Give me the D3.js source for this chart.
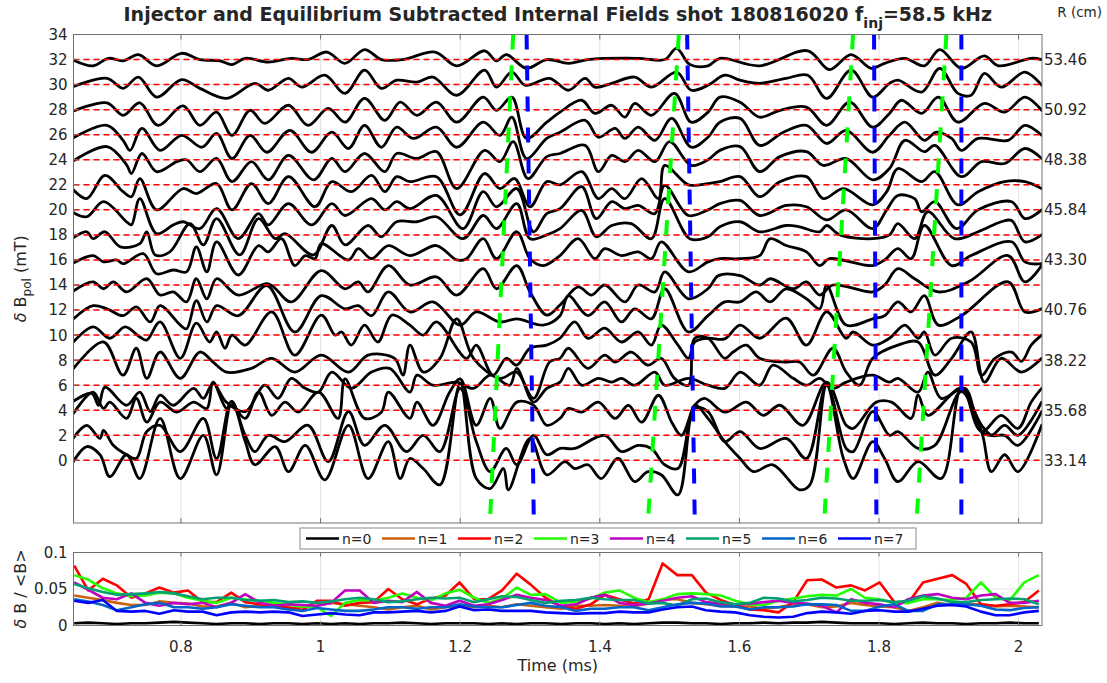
<!DOCTYPE html>
<html><head><meta charset="utf-8">
<script src="https://cdn.jsdelivr.net/npm/d3@7"></script>
<style>
body{margin:0;background:#fff}
svg{display:block}
text{font-family:"DejaVu Sans",sans-serif;fill:#262626}
</style>
</head><body>
<svg id="chart" width="1107" height="683"></svg>
<script>
// ---------------- DATA ----------------
const timeDomain = [0.646, 2.0335];
const timeTicks = [0.8, 1, 1.2, 1.4, 1.6, 1.8, 2];
const fieldTicks = [0,2,4,6,8,10,12,14,16,18,20,22,24,26,28,30,32,34];
const probeOffsets = [0,2,4,6,8,10,12,14,16,18,20,22,24,26,28,30,32];
const radiusTickOffsets = [0,4,8,12,16,20,24,28,32];
const radiusTickLabels = ["33.14","35.68","38.22","40.76","43.30","45.84","48.38","50.92","53.46"];
const ratioTicks = [0, 0.05, 0.1];

// probe traces: [time (ms), deltaB (mT) relative to the probe offset]
const trace0 = [[0.644,-0.25],[0.665,1.1],[0.684,0.45],[0.698,-1.3],[0.722,0.45],[0.741,-1.45],[0.770,3.35],[0.799,-1.45],[0.832,2.0],[0.851,-1.15],[0.873,4.7],[0.892,1.5],[0.906,-0.35],[0.935,1.1],[0.954,-0.9],[0.978,1.2],[1.006,-1.55],[1.040,2.8],[1.068,-1.45],[1.097,1.5],[1.114,-1.45],[1.128,0.15],[1.147,-0.65],[1.171,-1.95],[1.200,6.15],[1.223,-1.45],[1.243,-2.25],[1.262,-0.65],[1.269,-2.35],[1.300,1.75],[1.324,-1.15],[1.350,-0.1],[1.364,-0.65],[1.383,-0.35],[1.402,-1.45],[1.426,0.15],[1.450,-1.7],[1.469,-0.9],[1.488,-1.15],[1.512,-2.75],[1.536,4.4],[1.555,3.35],[1.579,1.5],[1.601,0.15],[1.620,-0.9],[1.648,-0.35],[1.686,-2.35],[1.701,-1.95],[1.725,6.0],[1.749,0.15],[1.763,-1.45],[1.791,1.5],[1.808,0.15],[1.827,-1.7],[1.856,-0.1],[1.889,-1.45],[1.918,5.75],[1.947,2.3],[1.961,-0.9],[1.980,0.45],[1.999,-0.9],[2.033,2.8]];
const trace1 = [[0.644,-0.35],[0.665,0.8],[0.684,-0.25],[0.689,0.4],[0.703,-0.8],[0.722,-1.55],[0.736,-1.85],[0.751,0.3],[0.770,0.8],[0.799,-1.3],[0.832,1.35],[0.851,-1.85],[0.872,2.7],[0.892,0],[0.906,-1.3],[0.925,0],[0.949,-0.5],[0.982,0.8],[1.011,-2.1],[1.040,1.9],[1.063,-0.8],[1.092,0.8],[1.123,-1.3],[1.147,0],[1.171,-1.3],[1.200,3.75],[1.223,-0.5],[1.243,-2.9],[1.266,-1.05],[1.281,-2.35],[1.305,0],[1.324,-1.55],[1.343,-1.05],[1.364,-1.05],[1.407,0],[1.431,-1.3],[1.455,-0.8],[1.474,-1.05],[1.493,-2.35],[1.512,-2.65],[1.536,2.15],[1.555,1.9],[1.579,-0.5],[1.601,0.3],[1.629,-1.05],[1.667,-0.25],[1.696,-1.85],[1.725,4.0],[1.753,-1.05],[1.763,-1.3],[1.791,1.9],[1.815,0],[1.827,0.3],[1.856,-1.05],[1.880,-0.8],[1.918,3.5],[1.947,0.8],[1.961,0],[1.980,0],[1.999,-0.8],[2.033,1.9]];
const trace2 = [[0.644,-0.4],[0.674,1.45],[0.689,0.15],[0.698,0.65],[0.722,-0.65],[0.736,0.95],[0.751,-0.95],[0.770,0.65],[0.794,-0.15],[0.818,0.65],[0.837,0.15],[0.846,2.25],[0.865,0.15],[0.873,0.4],[0.892,-0.65],[0.911,1.45],[0.930,-0.4],[0.949,0.65],[0.968,-0.15],[0.997,1.45],[1.025,-0.65],[1.035,2.5],[1.063,-0.65],[1.087,-0.15],[1.097,1.45],[1.128,-0.65],[1.138,0.65],[1.161,-1.2],[1.185,1.45],[1.200,2.5],[1.223,-1.2],[1.243,0.95],[1.257,-1.45],[1.281,0.65],[1.305,0.4],[1.324,-1.2],[1.343,-0.65],[1.355,0.15],[1.374,-0.15],[1.398,0.65],[1.422,-0.65],[1.441,0.4],[1.460,-0.95],[1.484,1.2],[1.503,-0.95],[1.517,-2.0],[1.536,0.4],[1.550,0.95],[1.579,-0.15],[1.610,0.65],[1.634,-0.4],[1.658,0.4],[1.691,-1.2],[1.725,2.25],[1.753,-1.2],[1.763,-1.45],[1.796,0.65],[1.818,0.65],[1.846,-0.65],[1.856,1.2],[1.870,-0.4],[1.918,1.75],[1.942,-1.45],[1.961,-2.0],[1.980,-1.2],[1.999,-2.0],[2.033,0.65]];
const trace3 = [[0.644,-1.35],[0.672,-0.65],[0.682,-1.6],[0.691,-0.15],[0.722,-1.6],[0.741,-0.55],[0.756,-2.1],[0.770,-0.8],[0.789,-1.6],[0.818,-0.25],[0.832,-1.05],[0.846,0.15],[0.865,-1.35],[0.892,-2.1],[0.920,0],[0.939,-1.05],[0.958,0.55],[0.978,-0.25],[0.997,-0.55],[1.016,1.05],[1.044,-0.25],[1.073,1.05],[1.099,1.35],[1.128,-0.55],[1.138,0.8],[1.161,0],[1.195,0.25],[1.219,-0.25],[1.243,0.8],[1.271,0],[1.281,1.35],[1.305,-1.35],[1.324,-0.25],[1.343,0.25],[1.355,1.35],[1.374,0],[1.398,0.55],[1.417,0.25],[1.431,0.55],[1.450,0],[1.479,1.05],[1.493,0],[1.527,0.55],[1.555,0],[1.579,-0.25],[1.601,1.05],[1.629,0],[1.648,1.6],[1.677,0.55],[1.696,0],[1.715,0.55],[1.734,-0.25],[1.753,0.25],[1.791,0.8],[1.815,0.25],[1.827,0.55],[1.856,-0.55],[1.870,1.05],[1.889,-1.05],[1.923,-0.25],[1.947,-3.7],[1.975,-2.4],[1.999,-3.45],[2.018,-1.35],[2.033,-0.25]];
const trace4 = [[0.644,-0.8],[0.689,1.45],[0.717,-1.2],[0.736,0.95],[0.751,-1.45],[0.770,0.65],[0.799,-1.45],[0.827,0.65],[0.846,-0.15],[0.865,-0.95],[0.901,-0.65],[0.930,0.15],[0.963,-0.95],[1.001,0.4],[1.040,-0.95],[1.068,0.4],[1.106,0.15],[1.118,-1.2],[1.128,1.2],[1.147,-0.95],[1.171,0.15],[1.195,3.3],[1.219,0.15],[1.257,-1.45],[1.281,-0.95],[1.305,-3.05],[1.328,-0.15],[1.343,0.15],[1.355,0.95],[1.383,-0.65],[1.407,0.4],[1.422,-0.15],[1.445,0.65],[1.469,-0.4],[1.488,0.15],[1.507,-1.45],[1.527,-2.0],[1.536,1.75],[1.555,1.75],[1.579,0.15],[1.591,0.65],[1.610,1.2],[1.629,0.15],[1.667,-0.15],[1.686,-0.15],[1.706,-1.2],[1.734,0.95],[1.753,-0.95],[1.772,-2.0],[1.791,0.15],[1.827,1.2],[1.856,1.45],[1.880,-1.2],[1.904,0.15],[1.932,2.25],[1.951,-1.75],[1.975,0.15],[2.004,-0.95],[2.033,0.15]];
const trace5 = [[0.644,-0.65],[0.674,0.65],[0.698,-0.25],[0.720,0.65],[0.741,-0.15],[0.751,-0.4],[0.770,1.05],[0.799,-1.85],[0.822,0.95],[0.841,-0.55],[0.851,0.25],[0.863,-1.05],[0.873,0],[0.892,-0.8],[0.930,1.85],[0.963,-1.6],[1.001,1.6],[1.021,0],[1.030,0.25],[1.044,-0.8],[1.063,0.8],[1.082,-0.55],[1.102,1.6],[1.128,0.8],[1.147,0],[1.166,1.05],[1.209,-1.85],[1.223,-0.8],[1.247,-3.2],[1.266,-1.85],[1.281,-2.4],[1.300,-1.05],[1.324,-0.8],[1.343,-0.25],[1.364,1.05],[1.383,-0.25],[1.407,0.55],[1.431,-0.55],[1.455,0.25],[1.474,-0.8],[1.488,0.8],[1.512,-0.8],[1.527,-1.85],[1.536,-0.55],[1.555,-0.25],[1.579,-0.3],[1.601,0.8],[1.629,-0.25],[1.667,1.35],[1.696,-0.8],[1.725,1.85],[1.753,-0.25],[1.763,0.25],[1.791,-0.8],[1.815,-0.25],[1.837,0.8],[1.856,-0.25],[1.865,0.25],[1.880,-1.6],[1.904,-0.25],[1.932,-0.55],[1.947,-3.2],[1.966,-1.85],[1.990,-1.35],[2.004,-2.1],[2.018,-0.8],[2.033,0]];
const trace6 = [[0.644,-0.8],[0.674,0.35],[0.694,0.1],[0.717,-0.45],[0.736,0.25],[0.756,-0.95],[0.770,0.35],[0.799,-1.2],[0.808,-1.5],[0.822,0.75],[0.837,-0.95],[0.851,0.35],[0.882,-0.45],[0.923,1.95],[0.963,-1.75],[1.001,1.15],[1.035,0.1],[1.054,0.35],[1.073,-0.45],[1.097,1.45],[1.128,-0.15],[1.161,0.65],[1.200,-1.2],[1.223,-0.15],[1.257,-0.95],[1.281,-0.7],[1.319,-1.2],[1.343,-0.45],[1.355,1.15],[1.383,-0.45],[1.407,0.65],[1.431,-0.95],[1.450,0.1],[1.474,-0.7],[1.493,1.7],[1.527,-1.75],[1.555,-0.45],[1.579,0.65],[1.601,0.65],[1.624,1.45],[1.644,0.65],[1.667,1.7],[1.696,0.9],[1.715,0.1],[1.725,1.95],[1.753,-1.2],[1.791,-0.7],[1.808,-0.45],[1.827,0.65],[1.846,-0.15],[1.865,1.15],[1.885,-1.2],[1.918,-0.45],[1.985,2.25],[2.009,-0.15],[2.033,0.1]];
const trace7 = [[0.644,-0.55],[0.674,0.25],[0.689,-0.3],[0.703,0.25],[0.722,-0.55],[0.751,0.5],[0.770,-0.8],[0.789,-0.55],[0.808,-1.35],[0.822,0.5],[0.837,-1.1],[0.851,0.5],[0.882,-0.8],[0.925,0.1],[0.958,-1.35],[1.001,1.15],[1.035,-0.3],[1.054,0.25],[1.068,-0.55],[1.097,1.55],[1.128,0],[1.166,0.65],[1.195,-0.8],[1.233,1.3],[1.252,-0.3],[1.281,1.55],[1.300,-0.55],[1.324,-2.4],[1.343,-1.6],[1.369,-0.15],[1.388,-0.8],[1.407,0],[1.436,-1.35],[1.455,0],[1.479,-0.55],[1.493,1.05],[1.527,-1.1],[1.555,-0.3],[1.570,0.75],[1.601,0.75],[1.629,0],[1.644,0.5],[1.677,-0.3],[1.696,0.25],[1.715,-0.8],[1.734,0],[1.791,-0.55],[1.808,0],[1.827,1.3],[1.851,0.5],[1.885,-0.55],[1.928,0.25],[1.985,2.35],[2.009,0.25],[2.033,1.55]];
const trace8 = [[0.644,-0.3],[0.674,0.35],[0.689,-0.15],[0.708,0],[0.717,-0.3],[0.746,0.5],[0.765,-1.1],[0.789,-0.8],[0.808,-0.95],[0.822,1.05],[0.837,-0.95],[0.851,1.45],[0.882,-1.2],[0.911,1.15],[0.925,0.65],[0.944,1.7],[0.963,-0.45],[0.978,0.35],[0.992,0.1],[1.001,1.3],[1.040,0],[1.054,0.9],[1.073,0.1],[1.097,1.15],[1.128,0.35],[1.166,1.15],[1.195,0],[1.209,0.1],[1.233,1.7],[1.252,0.1],[1.281,2.25],[1.300,0.1],[1.319,-0.45],[1.343,0.35],[1.369,1.7],[1.393,0.1],[1.407,0.9],[1.431,0.35],[1.455,0.65],[1.474,0.1],[1.488,1.45],[1.527,-0.95],[1.555,-0.15],[1.572,0.1],[1.601,0.1],[1.629,0.35],[1.644,1.7],[1.667,1.15],[1.696,0.65],[1.715,-0.45],[1.729,0.1],[1.791,-0.45],[1.808,0],[1.827,0.9],[1.846,0.1],[1.865,2.75],[1.904,-0.45],[1.932,0.35],[1.990,1.45],[2.009,-0.15],[2.033,-0.3]];
const trace9 = [[0.644,-0.3],[0.665,0.25],[0.674,-0.3],[0.691,0.25],[0.713,-0.95],[0.741,-0.7],[0.751,0.25],[0.763,-1.6],[0.784,-1.35],[0.813,0.9],[0.832,-0.8],[0.851,1.3],[0.884,-1.6],[0.911,1.3],[0.935,-0.3],[0.949,0.1],[0.990,-1.6],[1.016,0.75],[1.035,-0.8],[1.068,0.75],[1.087,-0.15],[1.109,1.05],[1.138,1.05],[1.166,1.45],[1.204,-0.3],[1.233,1.55],[1.252,0.5],[1.281,2.5],[1.300,-0.3],[1.324,0],[1.343,0.5],[1.374,1.95],[1.395,-0.15],[1.417,0.75],[1.445,0.9],[1.474,-0.3],[1.493,2.9],[1.529,-0.3],[1.555,-0.15],[1.572,0.65],[1.601,1.05],[1.629,0.25],[1.667,0.75],[1.686,0.65],[1.715,0.25],[1.725,0.75],[1.744,0],[1.791,-0.3],[1.815,0],[1.827,0.9],[1.851,-0.3],[1.870,1.85],[1.908,-0.3],[1.942,0.25],[1.975,1.05],[1.990,1.15],[2.009,-0.55],[2.033,0]];
const trace10 = [[0.644,-0.15],[0.665,-0.55],[0.689,0.65],[0.722,-0.95],[0.729,-1.2],[0.741,0.9],[0.765,-1.9],[0.789,-1.2],[0.803,-0.95],[0.827,-1.5],[0.851,0.1],[0.882,-2.3],[0.911,-0.3],[0.925,-1.2],[0.954,0.5],[0.987,-1.2],[1.016,0.5],[1.035,-0.45],[1.073,0.9],[1.092,0],[1.109,0.65],[1.128,0.1],[1.166,1.15],[1.204,-1.5],[1.233,1.45],[1.252,0.25],[1.281,1.7],[1.305,-1.75],[1.324,-0.3],[1.343,0.1],[1.374,1.85],[1.395,-0.7],[1.417,0.65],[1.436,0.1],[1.455,0.35],[1.479,-0.3],[1.493,1.95],[1.527,-0.45],[1.555,0],[1.572,0.5],[1.601,0.75],[1.629,-0.45],[1.667,0.35],[1.696,0.25],[1.725,-0.8],[1.753,0],[1.791,-1.5],[1.811,0],[1.827,1.15],[1.851,0.9],[1.861,-0.15],[1.880,0.65],[1.911,-1.5],[1.942,0],[1.990,0.65],[2.009,-0.7],[2.033,0]];
const trace11 = [[0.644,-0.3],[0.665,-1.1],[0.691,0.75],[0.717,-0.55],[0.729,-0.95],[0.741,0.5],[0.765,-2.0],[0.803,-0.3],[0.822,-0.7],[0.851,0.1],[0.873,-2.0],[0.901,0.1],[0.925,-1.5],[0.954,0.65],[0.992,-1.75],[1.016,0.25],[1.044,-0.55],[1.073,0.75],[1.092,-0.55],[1.109,0.65],[1.128,0.25],[1.166,0.65],[1.200,-2.4],[1.235,0.9],[1.257,-0.3],[1.278,0.5],[1.300,-1.75],[1.324,0.25],[1.343,0],[1.374,1.05],[1.398,-1.1],[1.417,-0.3],[1.436,-1.1],[1.460,0.5],[1.484,-1.1],[1.493,1.55],[1.527,0],[1.555,0.1],[1.572,0.25],[1.601,0.65],[1.629,-0.95],[1.658,0.25],[1.696,0.65],[1.720,-1.1],[1.749,-0.3],[1.791,-1.6],[1.811,-0.55],[1.827,1.3],[1.861,0.25],[1.880,1.05],[1.913,-1.6],[1.942,-0.55],[1.980,0.25],[2.009,0.25],[2.033,-0.3]];
const trace12 = [[0.644,-0.15],[0.694,1.05],[0.722,-0.4],[0.729,-1.1],[0.744,0.5],[0.765,-0.95],[0.794,-0.15],[0.808,0],[0.827,-0.95],[0.851,0.1],[0.873,-1.75],[0.901,-0.15],[0.925,-1.6],[0.954,0.35],[0.990,-1.6],[1.016,0.1],[1.035,-0.95],[1.063,0.5],[1.092,-0.95],[1.109,0.5],[1.138,0.1],[1.166,0.65],[1.195,-2.3],[1.235,0.75],[1.257,-0.15],[1.276,1.45],[1.297,-1.5],[1.324,0.25],[1.343,0.5],[1.379,1.15],[1.398,-0.95],[1.417,0.35],[1.436,-0.15],[1.455,0.75],[1.479,-0.15],[1.500,1.45],[1.531,-0.45],[1.555,0],[1.572,0.75],[1.601,1.05],[1.629,-0.95],[1.658,0.25],[1.696,0.65],[1.720,-0.45],[1.753,0.1],[1.791,-1.6],[1.815,-0.7],[1.837,1.55],[1.865,0.65],[1.880,1.15],[1.918,-1.35],[1.947,-0.15],[1.980,-0.3],[2.009,0.9],[2.033,0.1]];
const trace13 = [[0.644,-0.3],[0.694,0.75],[0.717,-0.45],[0.727,-1.25],[0.744,0.5],[0.770,-1.25],[0.801,-0.05],[0.830,-1.0],[0.851,0.1],[0.873,-1.9],[0.899,-0.05],[0.923,-1.4],[0.956,0.35],[0.987,-1.4],[1.016,0.2],[1.040,-1.1],[1.063,0.75],[1.087,-1.0],[1.109,0.6],[1.133,-0.3],[1.166,0.6],[1.195,-1.0],[1.233,1.0],[1.257,-0.05],[1.274,1.4],[1.295,-1.9],[1.324,-0.3],[1.343,0.2],[1.379,1.15],[1.398,-0.2],[1.422,0.5],[1.436,-0.3],[1.455,0.6],[1.479,-0.45],[1.503,1.3],[1.531,-1.0],[1.555,-0.2],[1.572,1.0],[1.601,1.3],[1.629,-0.85],[1.663,0.2],[1.696,0.75],[1.725,-0.7],[1.753,0.35],[1.791,-1.4],[1.815,-0.05],[1.837,1.0],[1.865,-0.45],[1.882,0.2],[1.904,-0.3],[1.918,-1.25],[1.942,-0.3],[1.985,-0.45],[2.009,0.75],[2.033,-0.05]];
const trace14 = [[0.644,-0.15],[0.694,0.55],[0.717,-0.45],[0.741,0.55],[0.767,-1.25],[0.803,0.3],[0.827,-1.25],[0.851,-0.2],[0.873,-2.05],[0.899,-0.05],[0.920,-1.1],[0.954,0.35],[0.982,-1.25],[1.011,0.1],[1.035,-1.0],[1.063,0.9],[1.092,-0.85],[1.114,0.6],[1.138,-0.45],[1.166,0.6],[1.195,-1.0],[1.233,1.0],[1.252,-0.05],[1.274,1.0],[1.295,-2.3],[1.324,-1.0],[1.343,-0.2],[1.374,0.75],[1.393,-0.3],[1.417,0.35],[1.436,-0.6],[1.450,0.5],[1.474,-0.45],[1.507,1.3],[1.531,-1.0],[1.555,-0.2],[1.572,1.0],[1.601,0.6],[1.629,-0.6],[1.658,-0.05],[1.696,0.2],[1.725,-1.25],[1.758,0.6],[1.791,-1.4],[1.815,-0.3],[1.832,0.75],[1.861,-0.3],[1.885,1.0],[1.913,-1.0],[1.951,0.5],[1.980,-0.2],[2.009,1.0],[2.033,-0.05]];
const trace15 = [[0.644,-0.2],[0.694,0.5],[0.717,-0.3],[0.739,0.6],[0.765,-1.0],[0.801,0.4],[0.827,-0.3],[0.865,-1.1],[0.906,0.1],[0.925,-0.45],[0.954,0.5],[0.973,-0.2],[1.006,0.75],[1.035,-0.7],[1.063,1.15],[1.087,-0.3],[1.109,0.35],[1.138,0.2],[1.161,0.6],[1.195,-0.85],[1.235,1.15],[1.252,-0.2],[1.274,1.0],[1.293,-0.05],[1.328,0.5],[1.355,-0.45],[1.379,0.5],[1.393,-0.2],[1.417,0.1],[1.450,0.6],[1.474,-0.2],[1.510,1.0],[1.531,-0.45],[1.555,-0.05],[1.579,0.75],[1.601,0.35],[1.629,0.1],[1.667,0.5],[1.698,0.75],[1.725,-1.1],[1.760,1.15],[1.791,-1.0],[1.815,0.1],[1.827,0.35],[1.861,-0.6],[1.887,1.3],[1.913,-0.7],[1.932,-0.85],[1.951,0.9],[1.975,-0.2],[2.009,1.0],[2.033,-0.05]];
const trace16 = [[0.644,0],[0.674,-0.5],[0.696,0.1],[0.717,-0.1],[0.739,0.4],[0.765,-0.5],[0.801,0.5],[0.827,0],[0.856,-0.1],[0.873,-0.4],[0.892,0.1],[0.925,-0.2],[0.958,0.1],[0.982,0],[1.009,0.6],[1.035,-0.3],[1.063,0.8],[1.087,0],[1.118,0],[1.164,0.6],[1.195,-0.5],[1.235,0.7],[1.252,-0.1],[1.266,0.4],[1.295,-0.7],[1.324,0],[1.355,-0.3],[1.383,0],[1.455,0.1],[1.493,0],[1.510,0.9],[1.529,-0.4],[1.555,-0.5],[1.572,0.1],[1.629,-0.5],[1.698,0.7],[1.729,-0.8],[1.760,0.4],[1.789,-0.7],[1.808,-0.3],[1.837,0.1],[1.865,-0.5],[1.887,0.8],[1.918,-0.7],[1.951,0.3],[1.971,-0.5],[2.018,0.1],[2.033,0]];
const traces = [trace0,trace1,trace2,trace3,trace4,trace5,trace6,trace7,trace8,trace9,trace10,trace11,trace12,trace13,trace14,trace15,trace16];

// slanted marker lines: [time at top (34 mT), time at bottom (-5 mT)]
const greenMarkers = [[1.2759,1.2425],[1.5132,1.4688],[1.7628,1.7213],[1.8965,1.8536]];
const blueMarkers  = [[1.2951,1.3055],[1.5251,1.5361],[1.7929,1.7963],[1.9180,1.9180]];

// lower panel: mode amplitudes
const modeTimes = [0.647,0.667,0.688,0.708,0.729,0.749,0.769,0.790,0.810,0.831,0.851,0.872,0.892,0.913,0.933,0.954,0.974,0.995,1.015,1.035,1.056,1.076,1.097,1.117,1.138,1.158,1.179,1.199,1.220,1.240,1.260,1.281,1.301,1.322,
 1.345,1.366,1.387,1.407,1.428,1.449,1.470,1.490,1.511,1.532,1.552,1.573,1.594,1.615,1.635,1.656,1.677,1.697,1.718,1.739,1.760,1.780,1.801,1.822,1.842,1.863,1.884,1.905,1.925,1.946,1.967,1.987,2.008,2.029];
const modeN0 = [0.003,0.004,0.003,0.002,0.003,0.003,0.004,0.005,0.004,0.003,0.002,0.003,0.003,0.002,0.003,0.003,0.002,0.003,0.002,0.003,0.002,0.003,0.003,0.004,0.003,0.002,0.003,0.003,0.003,0.002,0.003,0.002,0.003,0.003,
 0.002,0.003,0.003,0.002,0.003,0.002,0.003,0.004,0.004,0.003,0.003,0.002,0.003,0.003,0.004,0.003,0.004,0.004,0.005,0.004,0.003,0.003,0.003,0.002,0.003,0.004,0.003,0.003,0.002,0.003,0.003,0.004,0.003,0.003];
const modeN1 = [0.041,0.038,0.035,0.031,0.028,0.028,0.033,0.031,0.030,0.026,0.026,0.031,0.025,0.027,0.029,0.023,0.025,0.027,0.031,0.029,0.027,0.025,0.022,0.025,0.027,0.022,0.025,0.027,0.025,0.027,0.025,0.029,0.027,0.025,
 0.023,0.027,0.027,0.028,0.027,0.026,0.031,0.036,0.036,0.031,0.029,0.027,0.026,0.026,0.023,0.025,0.029,0.029,0.025,0.026,0.031,0.028,0.026,0.025,0.020,0.025,0.031,0.028,0.029,0.029,0.026,0.027,0.026,0.025];
const modeN2 = [0.082,0.048,0.064,0.055,0.038,0.044,0.052,0.045,0.048,0.032,0.032,0.045,0.032,0.029,0.027,0.025,0.021,0.034,0.034,0.027,0.031,0.032,0.050,0.036,0.029,0.037,0.041,0.059,0.036,0.036,0.048,0.071,0.056,0.038,
 0.026,0.023,0.029,0.042,0.036,0.030,0.036,0.085,0.069,0.069,0.045,0.035,0.028,0.022,0.021,0.018,0.032,0.062,0.063,0.052,0.055,0.048,0.059,0.032,0.031,0.059,0.064,0.069,0.057,0.029,0.027,0.029,0.032,0.048];
const modeN3 = [0.069,0.063,0.051,0.044,0.040,0.041,0.045,0.044,0.038,0.034,0.031,0.038,0.036,0.034,0.031,0.028,0.026,0.025,0.013,0.031,0.035,0.034,0.038,0.044,0.038,0.034,0.044,0.049,0.038,0.031,0.037,0.052,0.042,0.043,
 0.031,0.033,0.037,0.045,0.048,0.038,0.032,0.036,0.043,0.044,0.043,0.041,0.034,0.029,0.028,0.034,0.037,0.040,0.042,0.041,0.050,0.038,0.036,0.031,0.031,0.036,0.036,0.035,0.038,0.059,0.038,0.034,0.059,0.069];
const modeN4 = [0.059,0.049,0.038,0.036,0.044,0.031,0.027,0.031,0.029,0.031,0.025,0.031,0.043,0.031,0.027,0.029,0.028,0.027,0.031,0.048,0.048,0.031,0.034,0.032,0.046,0.031,0.027,0.034,0.027,0.029,0.035,0.042,0.038,0.035,
 0.027,0.029,0.038,0.042,0.031,0.028,0.030,0.034,0.038,0.040,0.032,0.030,0.029,0.030,0.032,0.034,0.031,0.030,0.027,0.018,0.036,0.031,0.029,0.025,0.036,0.041,0.043,0.038,0.036,0.041,0.043,0.031,0.031,0.034];
const modeN5 = [0.057,0.051,0.046,0.042,0.043,0.044,0.046,0.044,0.040,0.036,0.038,0.038,0.035,0.034,0.035,0.032,0.033,0.031,0.033,0.036,0.038,0.036,0.032,0.033,0.036,0.038,0.037,0.038,0.032,0.036,0.040,0.039,0.035,0.031,
 0.034,0.035,0.038,0.036,0.035,0.035,0.030,0.031,0.027,0.036,0.037,0.032,0.029,0.031,0.038,0.037,0.033,0.035,0.038,0.037,0.034,0.034,0.035,0.032,0.034,0.040,0.037,0.032,0.032,0.035,0.036,0.037,0.036,0.029];
const modeN6 = [0.036,0.033,0.028,0.021,0.025,0.029,0.031,0.025,0.025,0.023,0.025,0.029,0.027,0.025,0.025,0.022,0.020,0.024,0.022,0.020,0.020,0.022,0.025,0.025,0.023,0.025,0.025,0.029,0.026,0.025,0.025,0.028,0.031,0.027,
 0.025,0.020,0.023,0.023,0.025,0.025,0.021,0.025,0.029,0.031,0.030,0.026,0.026,0.022,0.025,0.025,0.026,0.029,0.029,0.028,0.020,0.020,0.026,0.029,0.020,0.020,0.029,0.029,0.029,0.027,0.022,0.021,0.024,0.025];
const modeN7 = [0.034,0.031,0.035,0.020,0.019,0.020,0.016,0.021,0.019,0.019,0.014,0.018,0.019,0.018,0.019,0.018,0.013,0.015,0.017,0.015,0.014,0.018,0.018,0.019,0.020,0.018,0.020,0.026,0.021,0.022,0.020,0.020,0.020,0.018,
 0.017,0.016,0.017,0.017,0.019,0.018,0.018,0.022,0.025,0.026,0.021,0.019,0.018,0.014,0.012,0.011,0.012,0.017,0.019,0.018,0.016,0.020,0.021,0.019,0.019,0.023,0.027,0.028,0.026,0.019,0.014,0.014,0.018,0.020];
const modeNames = ["n=0","n=1","n=2","n=3","n=4","n=5","n=6","n=7"];
const modeColors = ["#000000","#c8620e","#ff0000","#22ff00","#c000c0","#00a070","#0064c8","#0000ff"];
const modeSeries = [modeN0,modeN1,modeN2,modeN3,modeN4,modeN5,modeN6,modeN7];

// ---------------- LAYOUT ----------------
const svg = d3.select("#chart");
const L = 73.5, R = 1042;
const top1 = 34.5, bot1 = 523;
const top2 = 552.5, bot2 = 625.5;

const x = d3.scaleLinear().domain(timeDomain).range([L, R]);
const y1 = d3.scaleLinear().domain([-5, 34]).range([bot1, top1]);
const y2 = d3.scaleLinear().domain([0, 0.1]).range([bot2, top2]);

const gridColor = "#e3e3e3", axisColor = "#707070";

svg.append("defs").call(d => {
  d.append("clipPath").attr("id","clip1").append("rect").attr("x",L).attr("y",top1).attr("width",R-L).attr("height",bot1-top1);
  d.append("clipPath").attr("id","clip2").append("rect").attr("x",L).attr("y",top2).attr("width",R-L).attr("height",bot2-top2);
});

// ---------- top panel ----------
const g1 = svg.append("g");
g1.selectAll(".vg").data(timeTicks).enter().append("line")
  .attr("x1",d=>x(d)).attr("x2",d=>x(d)).attr("y1",top1).attr("y2",bot1)
  .attr("stroke",gridColor).attr("stroke-width",1);
g1.selectAll(".hg").data(fieldTicks).enter().append("line")
  .attr("x1",L).attr("x2",R).attr("y1",d=>y1(d)).attr("y2",d=>y1(d))
  .attr("stroke",gridColor).attr("stroke-width",1);

const plot1 = g1.append("g").attr("clip-path","url(#clip1)");
const traceLine = d3.line().curve(d3.curveCatmullRom.alpha(0.5));
traces.forEach((tr, k) => {
  plot1.append("path")
    .attr("d", traceLine(tr.map(p => [x(p[0]), y1(p[1] + probeOffsets[k])])))
    .attr("fill","none").attr("stroke","#000").attr("stroke-width",2.8)
    .attr("stroke-linejoin","round").attr("stroke-linecap","round");
});
plot1.selectAll(".ref").data(probeOffsets).enter().append("line")
  .attr("x1",L).attr("x2",R).attr("y1",d=>y1(d)).attr("y2",d=>y1(d))
  .attr("stroke","#ff0000").attr("stroke-width",1.5).attr("stroke-dasharray","6,4");
const drawMarkers = (arr, color) => {
  plot1.selectAll(null).data(arr).enter().append("line")
    .attr("x1",d=>x(d[0])).attr("y1",y1(34))
    .attr("x2",d=>x(d[1])).attr("y2",y1(-5))
    .attr("stroke",color).attr("stroke-width",4).attr("stroke-dasharray","15,16");
};
drawMarkers(greenMarkers, "#00ff00");
drawMarkers(blueMarkers, "#0000ff");

g1.append("rect").attr("x",L).attr("y",top1).attr("width",R-L).attr("height",bot1-top1)
  .attr("fill","none").attr("stroke",axisColor).attr("stroke-width",1);
g1.selectAll(".lt").data(fieldTicks).enter().append("line")
  .attr("x1",L).attr("x2",L+5).attr("y1",d=>y1(d)).attr("y2",d=>y1(d)).attr("stroke",axisColor);
g1.selectAll(".ll").data(fieldTicks).enter().append("text")
  .attr("x",L-6).attr("y",d=>y1(d)).attr("dy","0.36em").attr("text-anchor","end")
  .attr("font-size",15).text(d=>d);
g1.selectAll(".bt").data(timeTicks).enter().append("line")
  .attr("x1",d=>x(d)).attr("x2",d=>x(d)).attr("y1",bot1).attr("y2",bot1-5).attr("stroke",axisColor);
g1.selectAll(".tt").data(timeTicks).enter().append("line")
  .attr("x1",d=>x(d)).attr("x2",d=>x(d)).attr("y1",top1).attr("y2",top1+5).attr("stroke",axisColor);
g1.selectAll(".rl").data(radiusTickOffsets).enter().append("text")
  .attr("x",R+2).attr("y",d=>y1(d)).attr("dy","0.36em").attr("text-anchor","start")
  .attr("font-size",15).text((d,i)=>radiusTickLabels[i]);
svg.append("text").attr("x",1102).attr("y",17).attr("text-anchor","end").attr("font-size",13.5).text("R (cm)");

const yl1 = svg.append("text").attr("transform",`translate(26,${(top1+bot1)/2}) rotate(-90)`)
  .attr("text-anchor","middle").attr("font-size",16);
yl1.append("tspan").attr("font-style","italic").text("δ");
yl1.append("tspan").text(" B");
yl1.append("tspan").attr("font-size",12).attr("dy",5).text("pol");
yl1.append("tspan").attr("dy",-5).text(" (mT)");

const title = svg.append("text").attr("x",(L+R)/2).attr("y",21).attr("text-anchor","middle")
  .attr("font-size",19).attr("font-weight","bold");
title.append("tspan").text("Injector and Equilibrium Subtracted Internal Fields shot 180816020 f");
title.append("tspan").attr("font-size",14).attr("dy",7).text("inj");
title.append("tspan").attr("dy",-7).text("=58.5 kHz");

// ---------- bottom panel ----------
const g2 = svg.append("g");
g2.selectAll(".vg2").data(timeTicks).enter().append("line")
  .attr("x1",d=>x(d)).attr("x2",d=>x(d)).attr("y1",top2).attr("y2",bot2)
  .attr("stroke",gridColor);
g2.selectAll(".hg2").data(ratioTicks).enter().append("line")
  .attr("x1",L).attr("x2",R).attr("y1",d=>y2(d)).attr("y2",d=>y2(d))
  .attr("stroke",gridColor);
const plot2 = g2.append("g").attr("clip-path","url(#clip2)");
const modeLine = d3.line().x((d,i)=>x(modeTimes[i])).y(d=>y2(d));
modeSeries.forEach((s, i) => {
  plot2.append("path").attr("d", modeLine(s)).attr("fill","none")
    .attr("stroke", modeColors[i]).attr("stroke-width",2.6).attr("stroke-linejoin","round");
});
g2.append("rect").attr("x",L).attr("y",top2).attr("width",R-L).attr("height",bot2-top2)
  .attr("fill","none").attr("stroke",axisColor);
g2.selectAll(".bt2").data(timeTicks).enter().append("line")
  .attr("x1",d=>x(d)).attr("x2",d=>x(d)).attr("y1",bot2).attr("y2",bot2-4).attr("stroke",axisColor);
g2.selectAll(".tt2").data(timeTicks).enter().append("line")
  .attr("x1",d=>x(d)).attr("x2",d=>x(d)).attr("y1",top2).attr("y2",top2+4).attr("stroke",axisColor);
g2.selectAll(".xl").data(timeTicks).enter().append("text")
  .attr("x",d=>x(d)).attr("y",bot2+26).attr("text-anchor","middle").attr("font-size",15).text(d=>d);
g2.selectAll(".yl2").data(ratioTicks).enter().append("text")
  .attr("x",L-6).attr("y",d=>y2(d)).attr("dy","0.36em").attr("text-anchor","end").attr("font-size",15).text(d=>d);
svg.append("text").attr("x",(L+R)/2).attr("y",671).attr("text-anchor","middle").attr("font-size",16).text("Time (ms)");
const yl2 = svg.append("text").attr("transform",`translate(26,${(top2+bot2)/2}) rotate(-90)`)
  .attr("text-anchor","middle").attr("font-size",16);
yl2.append("tspan").attr("font-style","italic").text("δ");
yl2.append("tspan").text(" B / <B>");

// legend
const lg = svg.append("g");
const lgX = 300, lgY = 528, lgW = 616, lgH = 21, itemW = 76;
lg.append("rect").attr("x",lgX).attr("y",lgY).attr("width",lgW).attr("height",lgH)
  .attr("fill","#fff").attr("stroke","#8a8a8a");
modeNames.forEach((n,i) => {
  const ix = lgX + 6 + i*itemW;
  lg.append("line").attr("x1",ix).attr("x2",ix+33).attr("y1",lgY+lgH/2).attr("y2",lgY+lgH/2)
    .attr("stroke",modeColors[i]).attr("stroke-width",2.6);
  lg.append("text").attr("x",ix+36).attr("y",lgY+lgH/2).attr("dy","0.36em").attr("font-size",14).text(n);
});
</script>
</body></html>
